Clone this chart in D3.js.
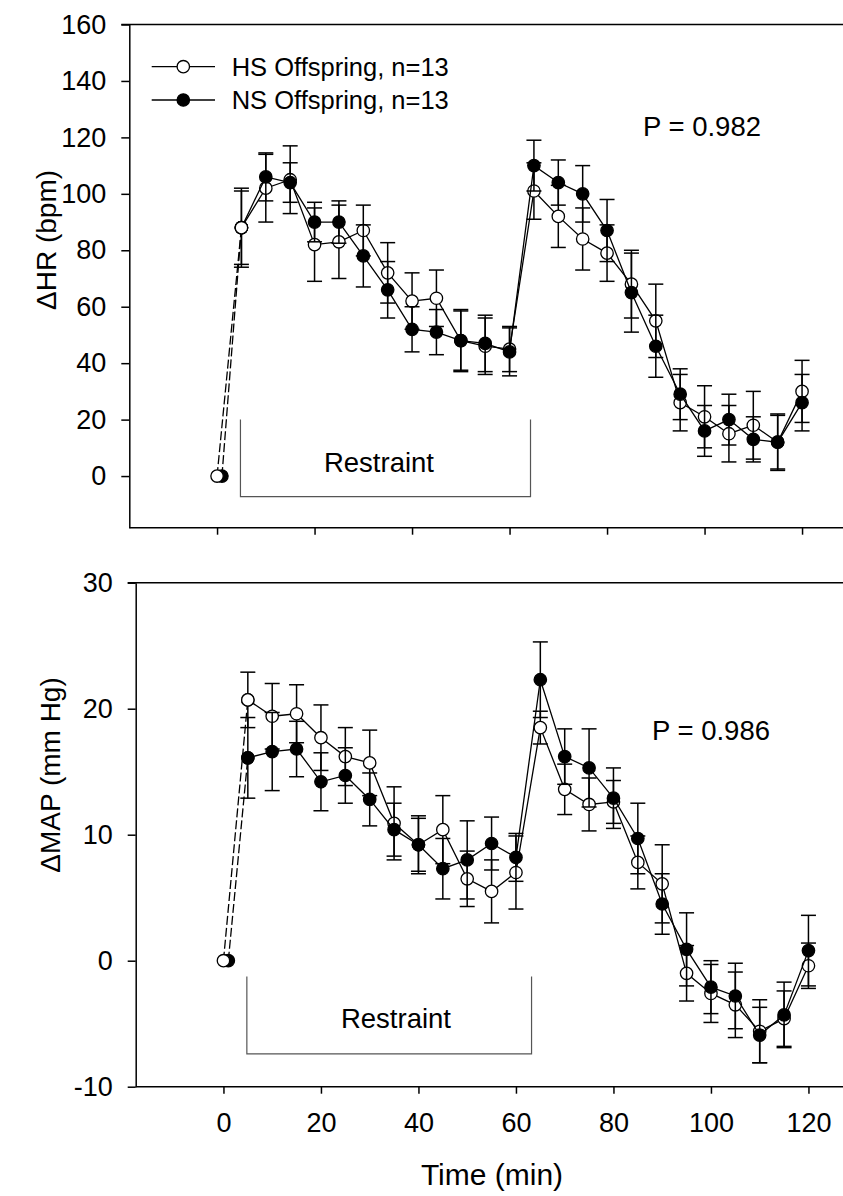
<!DOCTYPE html>
<meta charset="utf-8">
<style>
  body { margin: 0; background: #fff; }
  svg { display: block; }
  text { font-family: "Liberation Sans", Arial, sans-serif; fill: #000; }
  .axis path, .axis line { stroke: #000; stroke-width: 1.5px; }
  .axis text { font-size: 27px; }
  .bracket { stroke: #555; stroke-width: 1.2px; fill: none; }
</style>
<body>
<svg width="843" height="1196"></svg>
<script src="https://d3js.org/d3.v7.min.js"></script>
<script>
// time points after baseline (min)
var times = [5, 10, 15, 20, 25, 30, 35, 40, 45, 50, 55, 60, 65, 70, 75, 80, 85, 90, 95, 100, 105, 110, 115, 120];
var baseHS = 0, baseNS = 1; // baseline time of each group

// delta HR (bpm)
var hrHS    = [88, 102, 105, 82, 83, 87, 72, 62, 63, 48, 46, 45, 101, 92, 84, 79, 68, 55, 26, 21, 15, 18, 12, 30];
var hrHSerr = [14, 12, 12, 13, 13, 9, 10.7, 10, 10, 10.5, 10, 8, 10, 11, 11, 10, 12, 13, 10, 11, 10, 12, 9.5, 11];
var hrNS    = [88, 106, 104, 90, 90, 78, 66, 52, 51, 48, 47, 44, 110, 104, 100, 87, 65, 46, 29, 16, 20, 13, 12, 26];
var hrNSerr = [13, 8.5, 7, 7, 7.5, 11, 10, 8, 8, 11, 10, 8.5, 9, 8, 10, 11, 14, 11, 9, 9, 9, 8, 10, 10];

// delta MAP (mm Hg)
var mapHS    = [20.7, 19.4, 19.6, 17.7, 16.2, 15.7, 10.9, 9.2, 10.4, 6.5, 5.5, 7.0, 18.5, 13.6, 12.4, 12.6, 7.8, 6.1, -1.0, -2.6, -3.5, -5.6, -4.6, -0.4];
var mapHSerr = [2.2, 2.6, 2.3, 2.6, 2.3, 2.6, 2.9, 2.3, 2.7, 2.2, 2.5, 2.9, 1.3, 2.0, 2.1, 1.7, 2.1, 3.1, 2.2, 2.3, 2.6, 2.5, 2.2, 1.8];
var mapNS    = [16.1, 16.6, 16.8, 14.2, 14.7, 12.8, 10.4, 9.2, 7.3, 8.0, 9.3, 8.2, 22.3, 16.2, 15.3, 12.9, 9.7, 4.5, 0.9, -2.1, -2.8, -5.9, -4.3, 0.8];
var mapNSerr = [3.2, 3.1, 2.2, 2.3, 2.2, 2.1, 2.1, 2.1, 2.4, 3.1, 2.1, 1.9, 3.0, 2.2, 3.1, 2.4, 2.8, 2.4, 2.9, 2.1, 2.6, 2.2, 2.6, 2.8];

var xTicks = [0, 20, 40, 60, 80, 100, 120];
var hrTicks = [0, 20, 40, 60, 80, 100, 120, 140, 160];
var mapTicks = [-10, 0, 10, 20, 30];
var legendLabels = ["HS Offspring, n=13", "NS Offspring, n=13"];

var svg = d3.select("svg");
var r = 6.2, cap = 7.5;

function panel(o) {
  var x = d3.scaleLinear().domain([-18, 128]).range([o.left, o.left + 146 * 4.875]);
  var y = d3.scaleLinear().domain(o.yDomain).range([o.bottom, o.top]);
  var g = svg.append("g");

  // frame top line
  g.append("line").attr("x1", o.left - 8).attr("x2", 843).attr("y1", o.top).attr("y2", o.top)
    .attr("stroke", "#000").attr("stroke-width", 1.5);

  g.append("g").attr("class", "axis")
    .attr("transform", "translate(" + o.left + ",0)")
    .call(d3.axisLeft(y).tickValues(o.yTicks).tickSize(8).tickPadding(15).tickSizeOuter(0)
      .tickFormat(function(d) { return String(d); }));
  var xa = g.append("g").attr("class", "axis")
    .attr("transform", "translate(0," + o.bottom + ")")
    .call(d3.axisBottom(x).tickValues(xTicks).tickSize(7).tickPadding(19).tickSizeOuter(0));
  xa.select(".domain").attr("d", "M" + o.left + ",0H843");
  if (!o.xLabels) xa.selectAll("text").remove();

  // restraint bracket
  g.append("path").attr("class", "bracket")
    .attr("d", "M" + x(o.restraint[0]) + "," + y(o.bracketY[0]) +
      "V" + y(o.bracketY[1]) + "H" + x(o.restraint[1]) + "V" + y(o.bracketY[0]));
  g.append("text").attr("x", o.restraintText[0]).attr("y", o.restraintText[1])
    .attr("text-anchor", "middle").style("font-size", "27.5px").text("Restraint");

  g.append("text").attr("x", o.pPos[0]).attr("y", o.pPos[1]).style("font-size", "27.5px").text(o.pText);

  g.append("text").attr("transform", "translate(" + o.labelPos[0] + "," + o.labelPos[1] + ") rotate(-90)")
    .attr("text-anchor", "middle").style("font-size", "28px").text(o.yLabel);

  var line = d3.line().x(function(d) { return x(d[0]); }).y(function(d) { return y(d[1]); });

  function series(vals, errs, fill) {
    var pts = times.map(function(t, i) { return [t, vals[i], errs[i]]; });
    var s = g.append("g");
    var eb = s.selectAll(".eb").data(pts).enter().append("g").attr("stroke", "#000").attr("stroke-width", 1.5);
    eb.append("line").attr("x1", function(d) { return x(d[0]); }).attr("x2", function(d) { return x(d[0]); })
      .attr("y1", function(d) { return y(d[1] - d[2]); }).attr("y2", function(d) { return y(d[1] + d[2]); });
    eb.append("line").attr("x1", function(d) { return x(d[0]) - cap; }).attr("x2", function(d) { return x(d[0]) + cap; })
      .attr("y1", function(d) { return y(d[1] + d[2]); }).attr("y2", function(d) { return y(d[1] + d[2]); });
    eb.append("line").attr("x1", function(d) { return x(d[0]) - cap; }).attr("x2", function(d) { return x(d[0]) + cap; })
      .attr("y1", function(d) { return y(d[1] - d[2]); }).attr("y2", function(d) { return y(d[1] - d[2]); });
    s.append("path").attr("d", line(pts)).attr("fill", "none").attr("stroke", "#000").attr("stroke-width", 1.3);
    s.selectAll("circle").data(pts).enter().append("circle")
      .attr("cx", function(d) { return x(d[0]); }).attr("cy", function(d) { return y(d[1]); })
      .attr("r", r).attr("fill", fill).attr("stroke", "#000").attr("stroke-width", 1.3);
  }
  function baseline(t0, v1, fill) {
    var pts = [[t0, 0], [times[0], v1]];
    var s = g.append("g");
    s.append("path").attr("d", line(pts)).attr("fill", "none").attr("stroke", "#000")
      .attr("stroke-width", 1.3).attr("stroke-dasharray", "9,3");
    s.selectAll("circle").data(pts).enter().append("circle")
      .attr("cx", function(d) { return x(d[0]); }).attr("cy", function(d) { return y(d[1]); })
      .attr("r", r).attr("fill", fill).attr("stroke", "#000").attr("stroke-width", 1.3);
  }
  series(o.hs, o.hsErr, "#fff");
  series(o.ns, o.nsErr, "#000");
  baseline(baseNS, o.ns[0], "#000");
  baseline(baseHS, o.hs[0], "#fff");
  return { x: x, y: y };
}

panel({
  left: 129.3, top: 24.5, bottom: 527.7, yDomain: [-18.3, 160], yTicks: hrTicks,
  hs: hrHS, hsErr: hrHSerr, ns: hrNS, nsErr: hrNSerr, xLabels: false,
  restraint: [4.8, 64.3], bracketY: [20, -7.3], restraintText: [379, 472],
  pText: "P = 0.982", pPos: [643, 136], yLabel: "\u0394HR (bpm)", labelPos: [56, 240]
});
panel({
  left: 135.7, top: 582.7, bottom: 1086.7, yDomain: [-10, 30], yTicks: mapTicks,
  hs: mapHS, hsErr: mapHSerr, ns: mapNS, nsErr: mapNSerr, xLabels: true,
  restraint: [4.8, 63.2], bracketY: [-1.25, -7.4], restraintText: [396, 1028],
  pText: "P = 0.986", pPos: [652, 740], yLabel: "\u0394MAP (mm Hg)", labelPos: [60, 775]
});

svg.append("text").attr("x", 492).attr("y", 1185).attr("text-anchor", "middle")
  .style("font-size", "30px").text("Time (min)");

// legend
var legend = svg.append("g").selectAll("g").data(legendLabels).enter().append("g")
  .attr("transform", function(d, i) { return "translate(0," + (66.7 + i * 33.3) + ")"; });
legend.append("line").attr("x1", 151.7).attr("x2", 215).attr("stroke", "#000").attr("stroke-width", 1.3);
legend.append("circle").attr("cx", 183.3).attr("r", r).attr("stroke", "#000").attr("stroke-width", 1.3)
  .attr("fill", function(d, i) { return i ? "#000" : "#fff"; });
legend.append("text").attr("x", 231.7).attr("y", 8.8).style("font-size", "25.5px").text(function(d) { return d; });
</script>
</body>
